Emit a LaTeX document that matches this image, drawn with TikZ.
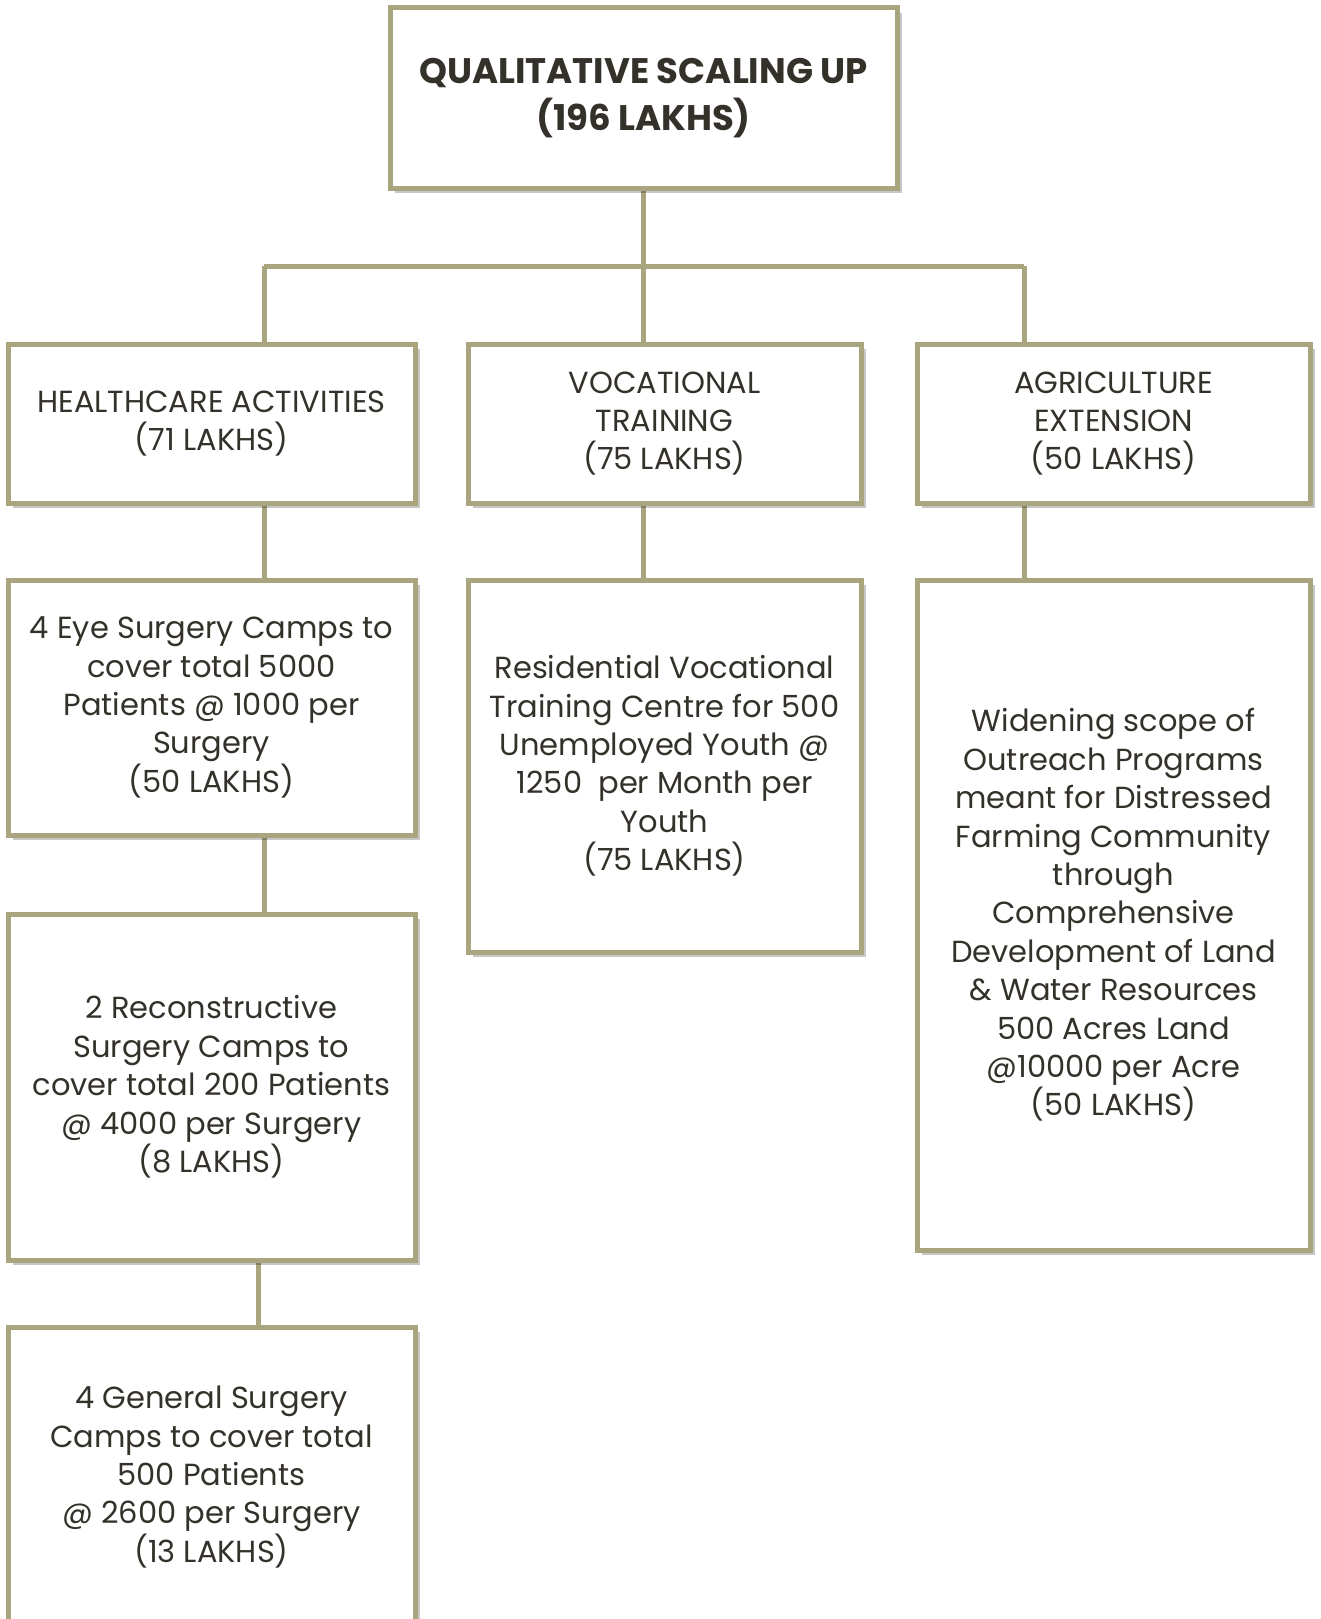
\documentclass[tikz,border=0pt]{standalone}
\usepackage{fontspec}
\setmainfont{Poppins}
\usetikzlibrary{positioning, calc, backgrounds, shadows}

\definecolor{boxline}{HTML}{A9A57E}
\definecolor{ink}{HTML}{33312A}

\tikzset{
    planbox/.style={draw=boxline, line width=5pt, fill=white, align=center, text=ink,
        inner sep=0pt, font=\fontsize{30.5}{38.4}\selectfont,
        drop shadow={shadow xshift=5pt, shadow yshift=-5pt, fill=black, opacity=0.22}},
    link/.style={draw=boxline, line width=5pt}
}

\begin{document}
\begin{tikzpicture}[x=1pt, y=-1pt]
        \useasboundingbox (0,0) rectangle (1321,1619);

        % Top box
        \node[planbox, minimum width=507pt, minimum height=180pt, font=\bfseries\fontsize{35.5}{46.5}\selectfont]
            (top) at (643.5,98) {QUALITATIVE SCALING UP\\(196 LAKHS)};

        % Second level
        \node[planbox, minimum width=407pt, minimum height=159pt] (health) at (211.5,423.5)
            {HEALTHCARE ACTIVITIES\\(71 LAKHS)};
        \node[planbox, minimum width=393pt, minimum height=159pt] (voc) at (664.5,423.5)
            {VOCATIONAL\\TRAINING\\(75 LAKHS)};
        \node[planbox, minimum width=393pt, minimum height=159pt] (agri) at (1113.5,423.5)
            {AGRICULTURE\\EXTENSION\\(50 LAKHS)};

        % Third level
        \node[planbox, minimum width=407pt, minimum height=255pt] (eye) at (211.5,707.5)
            {4 Eye Surgery Camps to\\cover total 5000\\Patients @ 1000 per\\Surgery\\(50 LAKHS)};
        \node[planbox, minimum width=393pt, minimum height=372pt] (resid) at (664.5,766)
            {Residential Vocational\\Training Centre for 500\\Unemployed Youth @\\1250~ per Month per\\Youth\\(75 LAKHS)};
        \node[planbox, minimum width=393pt, minimum height=670pt] (widen) at (1113.5,915)
            {Widening scope of\\Outreach Programs\\meant for Distressed\\Farming Community\\through\\Comprehensive\\Development of Land\\\& Water Resources\\500 Acres Land\\@10000 per Acre\\(50 LAKHS)};

        % Healthcare column
        \node[planbox, minimum width=407pt, minimum height=346pt] (recon) at (211.5,1087)
            {2 Reconstructive\\Surgery Camps to\\cover total 200 Patients\\@ 4000 per Surgery\\(8 LAKHS)};
        \node[planbox, minimum width=407pt, minimum height=300pt] (general) at (211.5,1477)
            {4 General Surgery\\Camps to cover total\\500 Patients\\@ 2600 per Surgery\\(13 LAKHS)};

        % Connectors
        \coordinate (hleg) at (264,266);
        \coordinate (aleg) at (1024,266);
        \begin{scope}[on background layer]
            \draw[link] (top.south) -- (top.south |- voc.north);
            \draw[link] (hleg) -- (aleg);
            \draw[link] (hleg) -- (hleg |- health.north);
            \draw[link] (aleg) -- (aleg |- agri.north);
            \draw[link] (hleg |- health.south) -- (hleg |- eye.north);
            \draw[link] (top.south |- voc.south) -- (top.south |- resid.north);
            \draw[link] (aleg |- agri.south) -- (aleg |- widen.north);
            \draw[link] (hleg |- eye.south) -- (hleg |- recon.north);
            \draw[link] ([xshift=-6pt]hleg |- recon.south) -- ([xshift=-6pt]hleg |- general.north);
        \end{scope}
    \end{tikzpicture}
\end{document}
